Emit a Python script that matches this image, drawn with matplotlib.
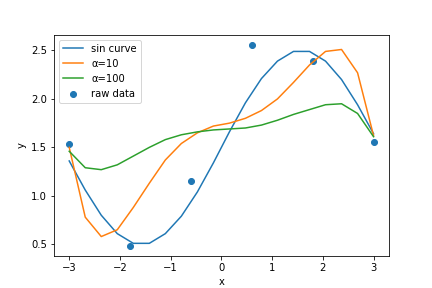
import numpy as np
import matplotlib
matplotlib.use("Agg")
import matplotlib.pyplot as plt

x = np.linspace(-3, 3, 20)

sin_curve = [1.36, 1.06, 0.80, 0.61, 0.51, 0.51, 0.61, 0.79, 1.04, 1.34,
             1.66, 1.96, 2.21, 2.39, 2.49, 2.49, 2.39, 2.20, 1.94, 1.64]
alpha10 = [1.50, 0.78, 0.58, 0.65, 0.88, 1.13, 1.37, 1.54, 1.65, 1.72,
           1.75, 1.80, 1.88, 2.00, 2.17, 2.35, 2.49, 2.51, 2.27, 1.62]
alpha100 = [1.46, 1.29, 1.27, 1.32, 1.41, 1.50, 1.58, 1.63, 1.66, 1.68,
            1.69, 1.70, 1.73, 1.78, 1.84, 1.89, 1.94, 1.95, 1.85, 1.61]

raw_x = [-3, -1.8, -0.6, 0.6, 1.8, 3]
raw_y = [1.53, 0.48, 1.15, 2.56, 2.39, 1.56]

plt.figure(figsize=(6, 4), dpi=72)
plt.plot(x, sin_curve, label="sin curve")
plt.plot(x, alpha10, label="α=10")
plt.plot(x, alpha100, label="α=100")
plt.scatter(raw_x, raw_y, label="raw data")
plt.xlabel("x")
plt.ylabel("y")
plt.legend(loc="upper left")
plt.savefig("out.png")
